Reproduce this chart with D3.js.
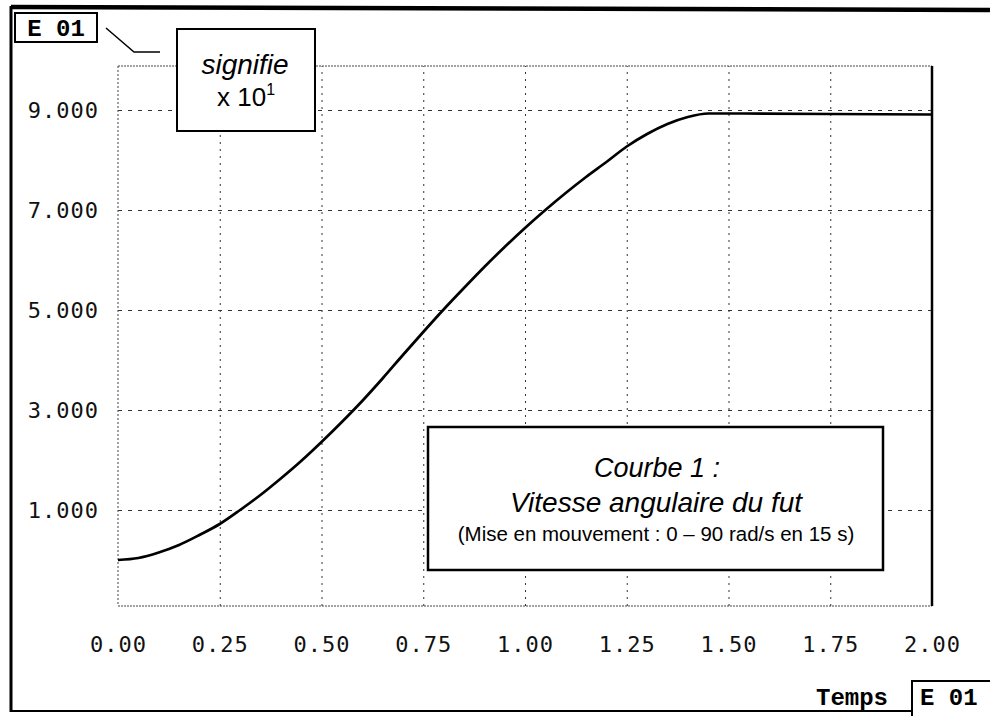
<!DOCTYPE html>
<html>
<head>
<meta charset="utf-8">
<script src="https://cdn.jsdelivr.net/npm/d3@7"></script>
<style>
  body { margin: 0; background: #fff; }
  svg { display: block; }
</style>
</head>
<body>
<svg width="990" height="716"></svg>
<script>
// temps (x10 s) et vitesse (x10 rad/s)
const times  = [0, 0.05, 0.10, 0.15, 0.20, 0.25, 0.30, 0.35, 0.40, 0.45, 0.50, 0.55, 0.60, 0.65, 0.70, 0.75, 0.80, 0.85, 0.90, 0.95, 1.00, 1.05, 1.10, 1.15, 1.20, 1.25, 1.30, 1.35, 1.40, 1.45, 1.50, 1.75, 2.00];
const speeds = [0, 0.04, 0.15, 0.30, 0.50, 0.72, 1.00, 1.30, 1.63, 1.98, 2.36, 2.76, 3.18, 3.63, 4.10, 4.56, 5.01, 5.44, 5.86, 6.26, 6.64, 7.00, 7.34, 7.66, 7.96, 8.27, 8.52, 8.72, 8.86, 8.93, 8.93, 8.92, 8.91];

const xTicks = [0, 0.25, 0.5, 0.75, 1, 1.25, 1.5, 1.75, 2];
const yTicks = [1, 3, 5, 7, 9];

const svg = d3.select('svg');

const pLeft = 118, pRight = 932, pTop = 66, pBottom = 606;

const x = d3.scaleLinear().domain([0, 2]).range([pLeft, pRight]);
const y = d3.scaleLinear().domain([-0.92, 9.88]).range([pBottom, pTop]);

// outer frame (scanned page border)
svg.append('line').attr('x1', 11).attr('y1', 7).attr('x2', 990).attr('y2', 10)
    .attr('stroke', '#000').attr('stroke-width', 4.5);
svg.append('line').attr('x1', 11).attr('y1', 6).attr('x2', 11).attr('y2', 712)
    .attr('stroke', '#000').attr('stroke-width', 3);
svg.append('line').attr('x1', 11).attr('y1', 711).attr('x2', 912).attr('y2', 711)
    .attr('stroke', '#000').attr('stroke-width', 2);

// grid
const gx = svg.append('g')
    .attr('transform', `translate(0, ${pBottom})`)
    .call(d3.axisBottom(x).tickValues(xTicks.slice(1, -1)).tickSize(-(pBottom - pTop)).tickFormat(''));
gx.select('.domain').remove();
gx.selectAll('line').attr('stroke', '#333').attr('stroke-dasharray', '2,5');

const gy = svg.append('g')
    .attr('transform', `translate(${pLeft}, 0)`)
    .call(d3.axisLeft(y).tickValues(yTicks).tickSize(-(pRight - pLeft)).tickFormat(''));
gy.select('.domain').remove();
gy.selectAll('line').attr('stroke', '#333').attr('stroke-dasharray', '4,6');

// plot frame
svg.append('line').attr('x1', pLeft).attr('y1', pTop).attr('x2', pRight).attr('y2', pTop)
    .attr('stroke', '#444').attr('stroke-dasharray', '2,1');
svg.append('line').attr('x1', pLeft).attr('y1', pBottom).attr('x2', pRight).attr('y2', pBottom)
    .attr('stroke', '#444').attr('stroke-dasharray', '2,1');
svg.append('line').attr('x1', pLeft).attr('y1', pTop).attr('x2', pLeft).attr('y2', pBottom)
    .attr('stroke', '#444').attr('stroke-dasharray', '2,2');
svg.append('line').attr('x1', pRight).attr('y1', pTop).attr('x2', pRight).attr('y2', pBottom)
    .attr('stroke', '#000').attr('stroke-width', 2.5);

// tick labels
const tickFont = '"DejaVu Sans Mono", monospace';
const ax = svg.append('g')
    .attr('transform', `translate(0, ${pBottom})`)
    .call(d3.axisBottom(x).tickValues(xTicks).tickSize(0).tickPadding(30).tickFormat(d3.format('.2f')));
ax.select('.domain').remove();
ax.selectAll('text').attr('font-family', tickFont).attr('font-size', 22)
    .attr('letter-spacing', 1).attr('fill', '#111');

const ay = svg.append('g')
    .attr('transform', `translate(${pLeft}, 0)`)
    .call(d3.axisLeft(y).tickValues(yTicks).tickSize(0).tickPadding(19).tickFormat(d3.format('.3f')));
ay.select('.domain').remove();
ay.selectAll('text').attr('font-family', tickFont).attr('font-size', 22)
    .attr('letter-spacing', 1).attr('fill', '#111');

// curve
const line = d3.line()
    .x((d, i) => x(times[i]))
    .y(d => y(d))
    .curve(d3.curveMonotoneX);
svg.append('path')
    .datum(speeds)
    .attr('d', line)
    .attr('fill', 'none')
    .attr('stroke', '#000')
    .attr('stroke-width', 2.7);

// "E 01" boxes
const monoFont = '"Liberation Mono", "Courier New", monospace';
svg.append('rect').attr('x', 15).attr('y', 13).attr('width', 82).attr('height', 29)
    .attr('fill', '#fff').attr('stroke', '#000').attr('stroke-width', 2);
svg.append('text').attr('x', 56).attr('y', 36).attr('text-anchor', 'middle')
    .attr('font-family', monoFont).attr('font-weight', 'bold').attr('font-size', 24).text('E 01');

svg.append('rect').attr('x', 912).attr('y', 681).attr('width', 90).attr('height', 40)
    .attr('fill', '#fff').attr('stroke', '#000').attr('stroke-width', 2);
svg.append('text').attr('x', 920).attr('y', 705)
    .attr('font-family', monoFont).attr('font-weight', 'bold').attr('font-size', 24).text('E 01');
svg.append('text').attr('x', 852).attr('y', 705).attr('text-anchor', 'middle')
    .attr('font-family', monoFont).attr('font-weight', 'bold').attr('font-size', 24).text('Temps');

// leader line to "signifie" box
svg.append('polyline').attr('points', '106,28 134,52 160,52')
    .attr('fill', 'none').attr('stroke', '#000').attr('stroke-width', 1.5);

const sans = 'Arial, "Liberation Sans", sans-serif';
svg.append('rect').attr('x', 177).attr('y', 29).attr('width', 138).attr('height', 102)
    .attr('fill', '#fff').attr('stroke', '#000').attr('stroke-width', 2);
svg.append('text').attr('x', 245).attr('y', 74).attr('text-anchor', 'middle')
    .attr('font-family', sans).attr('font-style', 'italic')
    .attr('font-size', 28).text('signifie');
const sup = svg.append('text').attr('x', 246).attr('y', 106).attr('text-anchor', 'middle')
    .attr('font-family', sans).attr('font-size', 26);
sup.append('tspan').text('x 10');
sup.append('tspan').attr('font-size', 16).attr('dy', -11).text('1');

// legend box
svg.append('rect').attr('x', 428).attr('y', 427).attr('width', 455).attr('height', 143)
    .attr('fill', '#fff').attr('stroke', '#000').attr('stroke-width', 2.5);
svg.append('text').attr('x', 657).attr('y', 477).attr('text-anchor', 'middle')
    .attr('font-family', sans).attr('font-style', 'italic').attr('font-size', 27).text('Courbe 1 :');
svg.append('text').attr('x', 656).attr('y', 512).attr('text-anchor', 'middle')
    .attr('font-family', sans).attr('font-style', 'italic').attr('font-size', 28).text('Vitesse angulaire du fut');
svg.append('text').attr('x', 656).attr('y', 541).attr('text-anchor', 'middle')
    .attr('font-family', sans).attr('font-size', 20.5).text('(Mise en mouvement : 0 \u2013 90 rad/s en 15 s)');
</script>
</body>
</html>
